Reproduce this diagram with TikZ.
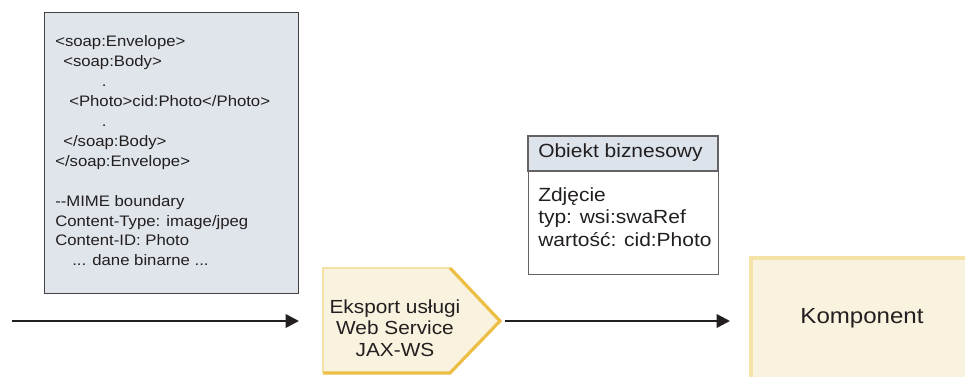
\documentclass[tikz,border=0pt]{standalone}
\usepackage{fontspec}
\setmainfont[FakeStretch=1.1]{Liberation Sans}
\usetikzlibrary{arrows.meta,positioning}
\definecolor{soapfill}{HTML}{DFE5EB}
\definecolor{headfill}{HTML}{DCE3EA}
\definecolor{beige}{HTML}{F8F2DE}
\definecolor{gold}{HTML}{EDBE45}
\definecolor{palegold}{HTML}{F4E2A6}
\definecolor{ink}{HTML}{231F20}

\begin{document}
\begin{tikzpicture}[x=0.75pt,y=-0.75pt,every node/.style={text=ink},
  flow/.style={line width=1.9pt,ink,-{Triangle[length=10pt,width=10pt]}},
  code/.style={anchor=base west,inner sep=0pt,font=\fontsize{11.4}{15}\selectfont},
  bodytext/.style={anchor=base west,inner sep=0pt,font=\fontsize{14.3}{16.9}\selectfont}]
  \useasboundingbox (0,0) rectangle (965,377);
  %\draw[help lines,step=50] (0,0) grid (965,377);

  % SOAP message
  \node[draw=ink!85,line width=1.1pt,fill=soapfill,anchor=north west,
        minimum width=190.5pt,minimum height=210.75pt] (soap) at (44,12) {};
  \foreach \Dx/\Line [count=\i] in {
      0/{<soap:Envelope>},
      6/{<soap:Body>},
      35/{.},
      10.5/{<Photo>cid:Photo</Photo>},
      35/{.},
      6/{</soap:Body>},
      0/{</soap:Envelope>},
      0/{},
      0/{{-}{-}MIME boundary},
      0/{Content-Type: image/jpeg},
      0/{Content-ID: Photo},
      12.75/{... dane binarne ...}
    }{\node[code,xshift=\Dx pt] (line\i) at (55,{47+19.9*(\i-1)}) {\Line};}

  % business object
  \node[draw=ink!70,line width=0.8pt,fill=white,anchor=north west,
        minimum width=142.5pt,minimum height=103.5pt] (bo) at (528,136) {};
  \path[draw=ink!70,line width=0.8pt,fill=headfill] (bo.north west) rectangle (718,171);
  \node[bodytext] (bohead) at (538,158) {Obiekt biznesowy};
  \node[bodytext] (bo1) at (538,201.5) {Zdjęcie};
  \node[bodytext] (bo2) at (538,224) {typ: wsi:swaRef};
  \node[bodytext] (bo3) at (538,246.5) {wartość: cid:Photo};

  % export
  \path[fill=beige] (323,268) -- (450,268) -- (500,321) -- (450,373) -- (323,373) -- cycle;
  \draw[palegold,line width=1.2pt] (323,373) -- (323,268) -- (450,268);
  \draw[gold,line width=2.4pt,line join=miter] (450,268) -- (500,321) -- (450,373) -- (323,373);
  \coordinate (expin) at (323,321);
  \coordinate (exptip) at (500,321);
  \node[align=center,inner sep=0pt,font=\fontsize{14.2}{16.1}\selectfont] (export)
        at (395,328) {Eksport usługi\\Web Service\\JAX-WS};

  % component
  \path[fill=beige] (750,257) rectangle (990,400);
  \draw[palegold,line width=2.6pt] (751,400) -- (751,258) -- (990,258);
  \coordinate (kompin) at (750,321);
  \node[font=\fontsize{16.4}{18}\selectfont] (komp) at (862,318) {Komponent};

  % arrows
  \coordinate (in) at (12,321);
  \draw[flow,shorten >=18pt] (in) -- (expin);
  \draw[flow,shorten <=3.75pt,shorten >=15pt] (exptip) -- (kompin);
\end{tikzpicture}
\end{document}
